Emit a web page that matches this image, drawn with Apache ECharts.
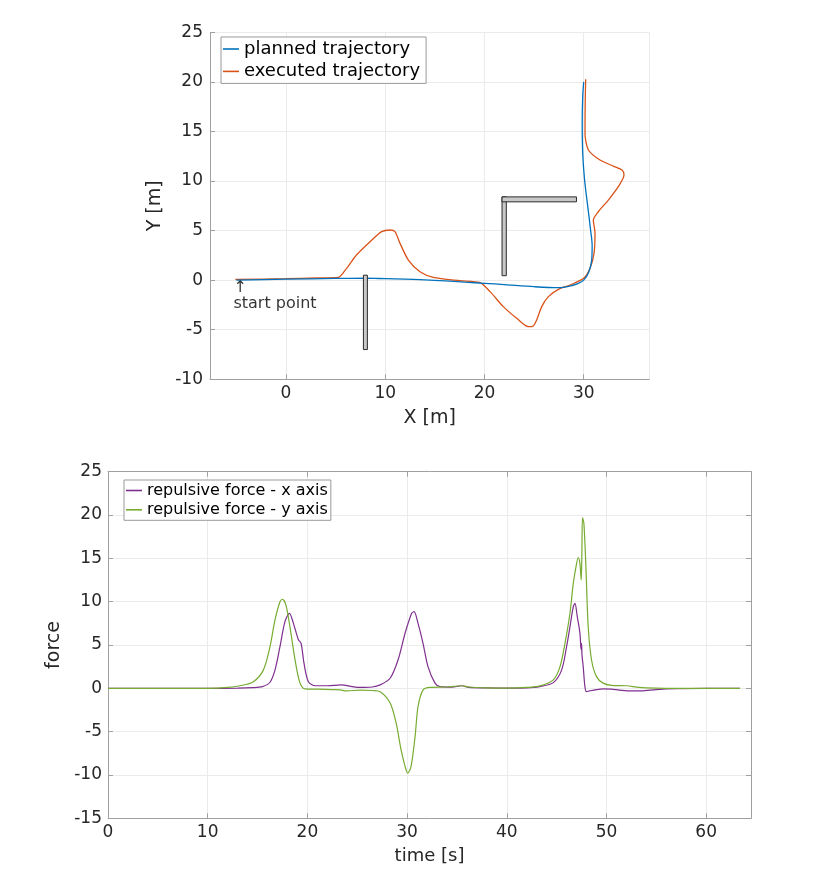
<!DOCTYPE html>
<html>
<head>
<meta charset="utf-8">
<script src="https://cdn.jsdelivr.net/npm/echarts@6/dist/echarts.min.js"></script>
<style>
  html, body { margin: 0; padding: 0; background: #fff; }
</style>
</head>
<body>
<div id="main" style="width: 830px;height:870px;"></div>
<script>
// trajectory in the plane, [x, y] in metres
var planned = [[-5, 0], [0, 0.1], [5, 0.17], [8, 0.2], [10, 0.15], [12, 0.1], [15, -0.02],
    [18, -0.2], [20, -0.32], [22, -0.45], [25, -0.66], [27.5, -0.76], [28.6, -0.6],
    [29.4, -0.35], [30, 0], [30.5, 0.8], [30.8, 2.0], [30.85, 3.5], [30.7, 5.0],
    [30.4, 7.5], [30.1, 10], [29.9, 12.8], [29.85, 16], [29.9, 18.5], [30.0, 20]];

var executed = [[-5.1, 0.07], [0, 0.15], [3, 0.22], [5.27, 0.28], [6.1, 1.19], [7.1, 2.54],
    [8.47, 3.88], [9.64, 4.89], [10.48, 5.06], [10.98, 4.89], [11.49, 3.71], [12.33, 2.03],
    [13.5, 0.85], [14.85, 0.28], [17.53, -0.05], [19.55, -0.25], [20.56, -1.16],
    [21.9, -2.67], [23.25, -3.85], [24.42, -4.69], [24.92, -4.62], [25.26, -4.02],
    [25.77, -2.67], [26.44, -1.66], [27.45, -0.93], [28.62, -0.49], [30, 0.18],
    [30.64, 1.19], [31.04, 2.7], [31.14, 4.72], [30.97, 6.07], [31.47, 6.9], [32.48, 8.08],
    [33.49, 9.43], [34.06, 10.6], [33.86, 11.1], [32.99, 11.5], [31.64, 12.12],
    [30.47, 13.13], [30.13, 14.8], [30.15, 17.84], [30.2, 20.26]];

// obstacles: [x0, x1, y0, y1]
var obstacles = [[7.8, 8.2, -7, 0.5], [21.77, 22.2, 0.45, 8.4], [21.77, 29.27, 7.9, 8.4]];
var startPoint = [[-5, 0]];

// repulsive force over time, [t, f]
var forceX = [[0, 0], [10, 0], [13, 0.02], [14.5, 0.08], [15.5, 0.2], [16.25, 0.7], [16.75, 2.1],
    [17.25, 4.8], [17.75, 7.7], [18.2, 8.66], [18.6, 7.5], [19.1, 5.6], [19.37, 5.2],
    [19.66, 2.9], [20.1, 0.77], [20.8, 0.3], [22, 0.3], [23.4, 0.4], [24.5, 0.2], [25.3, 0.1],
    [26.5, 0.15], [27.3, 0.4], [28.3, 1.16], [29.1, 3.3], [29.8, 6.36], [30.46, 8.66],
    [30.7, 8.85], [31.1, 7.5], [31.6, 5.2], [32.1, 2.5], [32.8, 0.6], [33.3, 0.2],
    [34.5, 0.15], [35.5, 0.3], [36.2, 0.1], [38, 0.05], [40, 0.02], [42, 0.05], [43.3, 0.2],
    [44.67, 0.66], [45.5, 2.1], [46.0, 4.8], [46.34, 7.1], [46.67, 9.4], [46.84, 9.8],
    [47.07, 8.3], [47.34, 6.36], [47.45, 4.5], [47.5, 5.2], [47.55, 3.8], [47.67, 2.5],
    [47.84, 0.2], [48.0, -0.38], [48.3, -0.3], [49.0, -0.15], [49.66, -0.07], [50.5, -0.1],
    [51.3, -0.2], [52.5, -0.3], [53.5, -0.3], [55, -0.15], [57, -0.05], [60, 0], [63.4, 0]];

var forceY = [[0, 0], [10, 0], [12, 0.1], [13.24, 0.3], [14.58, 0.77], [15.58, 2.1], [16.25, 4.8],
    [16.75, 7.9], [17.25, 10.0], [17.5, 10.28], [17.85, 9.6], [18.25, 7.1], [18.76, 3.3],
    [19.26, 0.6], [19.76, -0.07], [21, -0.1], [22.5, -0.15], [23.27, -0.18], [23.94, -0.3],
    [25.3, -0.2], [26.5, -0.25], [27.3, -0.4], [28.3, -1.7], [28.9, -4.0], [29.4, -7.1],
    [29.8, -9.0], [30.07, -9.8], [30.4, -9.0], [30.8, -5.6], [31.1, -2.1], [31.6, -0.2],
    [32.3, 0.1], [34, 0.15], [35.5, 0.3], [36.2, 0.15], [38, 0.05], [40, 0.02], [42, 0.1],
    [43.33, 0.28], [44.67, 0.97], [45.34, 2.5], [45.84, 5.2], [46.34, 8.66], [46.67, 12.1],
    [46.94, 14.0], [47.17, 15.1], [47.34, 14.4], [47.47, 12.5], [47.54, 16.0], [47.6, 19.7],
    [47.74, 19.0], [47.94, 14.0], [48.17, 7.1], [48.5, 3.3], [49.0, 1.35], [49.66, 0.6],
    [50.5, 0.35], [52.0, 0.3], [53.3, 0.1], [55, 0.02], [57, 0], [63.4, 0]];

var FONT = 'DejaVu Sans';
var TXT = '#262626';
var AXIS = '#a0a0a0';
var GRID = '#ebebeb';

function axisBase(extra) {
    var a = {
        type: 'value',
        axisLine: { show: true, onZero: false, lineStyle: { color: AXIS, width: 1 } },
        axisTick: { show: true, inside: true, length: 5, lineStyle: { color: AXIS } },
        axisLabel: { color: TXT, fontFamily: FONT, fontSize: 17, margin: 6 },
        splitLine: { show: true, lineStyle: { color: GRID, width: 1 } },
        nameLocation: 'middle',
        nameTextStyle: { color: TXT, fontFamily: FONT, fontSize: 19 }
    };
    for (var k in extra) a[k] = extra[k];
    return a;
}

var myChart = echarts.init(document.getElementById('main'), null, { renderer: 'canvas' });

var option = {
    animation: false,
    backgroundColor: '#fff',
    grid: [
        { left: 210, top: 32.3, width: 439.3, height: 347 },
        { left: 108, top: 471.7, width: 643, height: 346.6 }
    ],
    legend: [
        {
            data: ['planned trajectory', 'executed trajectory'],
            orient: 'vertical', left: 221, top: 37,
            icon: 'rect', itemWidth: 16, itemHeight: 1.6,
            padding: [2, 6, 2, 2], itemGap: 2.4,
            backgroundColor: '#fff', borderColor: '#999', borderWidth: 1, borderRadius: 0,
            selectedMode: false,
            textStyle: { color: '#000', fontFamily: FONT, fontSize: 18, lineHeight: 20 }
        },
        {
            data: ['repulsive force - x axis', 'repulsive force - y axis'],
            orient: 'vertical', left: 124, top: 480,
            icon: 'rect', itemWidth: 16, itemHeight: 1.6,
            padding: [2, 3, 2, 2], itemGap: 2.3,
            backgroundColor: '#fff', borderColor: '#999', borderWidth: 1, borderRadius: 0,
            selectedMode: false,
            textStyle: { color: '#000', fontFamily: FONT, fontSize: 16, lineHeight: 17 }
        }
    ],
    xAxis: [
        axisBase({
            gridIndex: 0, min: -7.66, max: 36.61, minInterval: 10, maxInterval: 10,
            name: 'X [m]', nameGap: 29,
            axisLabel: { color: TXT, fontFamily: FONT, fontSize: 17, margin: 6, showMinLabel: false, showMaxLabel: false }
        }),
        axisBase({
            gridIndex: 1, min: 0, max: 64.5, interval: 10,
            name: 'time [s]', nameGap: 29,
            nameTextStyle: { color: TXT, fontFamily: FONT, fontSize: 18 },
            axisLabel: { color: TXT, fontFamily: FONT, fontSize: 17, margin: 6, showMaxLabel: false }
        }),
        axisBase({
            gridIndex: 1, min: 0, max: 64.5, interval: 10, position: 'top',
            axisLabel: { show: false }, splitLine: { show: false }
        })
    ],
    yAxis: [
        axisBase({
            gridIndex: 0, min: -10, max: 25, interval: 5,
            name: 'Y [m]', nameGap: 38,
            axisLabel: { color: TXT, fontFamily: FONT, fontSize: 17, margin: 7 }
        }),
        axisBase({
            gridIndex: 1, min: -15, max: 25, interval: 5,
            name: 'force', nameGap: 40,
            nameTextStyle: { color: TXT, fontFamily: FONT, fontSize: 19 },
            axisLabel: { color: TXT, fontFamily: FONT, fontSize: 17, margin: 6 }
        }),
        axisBase({
            gridIndex: 1, min: -15, max: 25, interval: 5, position: 'right',
            axisLabel: { show: false }, splitLine: { show: false }
        })
    ],
    series: [
        {
            name: 'planned trajectory', type: 'line', xAxisIndex: 0, yAxisIndex: 0,
            data: planned, showSymbol: false, symbol: 'none', smooth: 0.3,
            lineStyle: { color: '#0072BD', width: 1.3 }, itemStyle: { color: '#0072BD' }, z: 3
        },
        {
            name: 'executed trajectory', type: 'line', xAxisIndex: 0, yAxisIndex: 0,
            data: executed, showSymbol: false, symbol: 'none', smooth: 0.25,
            lineStyle: { color: '#D95319', width: 1.3 }, itemStyle: { color: '#D95319' }, z: 2
        },
        {
            name: 'obstacles', type: 'custom', xAxisIndex: 0, yAxisIndex: 0,
            data: obstacles, encode: { x: [0, 1], y: [2, 3] }, silent: true, z: 4,
            renderItem: function (params, api) {
                var p0 = api.coord([api.value(0), api.value(3)]);
                var p1 = api.coord([api.value(1), api.value(2)]);
                return {
                    type: 'rect',
                    shape: { x: p0[0], y: p0[1], width: p1[0] - p0[0], height: p1[1] - p0[1] },
                    style: { fill: '#c8c8c8', stroke: '#2a2a2a', lineWidth: 1 }
                };
            }
        },
        {
            name: 'start', type: 'scatter', xAxisIndex: 0, yAxisIndex: 0,
            data: startPoint, symbolSize: 0, silent: true, z: 5,
            label: {
                show: true, position: [-3, 0], align: 'left', verticalAlign: 'top',
                formatter: '↑\nstart point',
                color: '#000', fontFamily: FONT, fontSize: 16, lineHeight: 16
            }
        },
        {
            name: 'repulsive force - x axis', type: 'line', xAxisIndex: 1, yAxisIndex: 1,
            data: forceX, showSymbol: false, symbol: 'none', smooth: 0.3,
            lineStyle: { color: '#7E2F8E', width: 1.2 }, itemStyle: { color: '#7E2F8E' }
        },
        {
            name: 'repulsive force - y axis', type: 'line', xAxisIndex: 1, yAxisIndex: 1,
            data: forceY, showSymbol: false, symbol: 'none', smooth: 0.3,
            lineStyle: { color: '#77AC30', width: 1.2 }, itemStyle: { color: '#77AC30' }
        }
    ]
};
myChart.setOption(option);
</script>
</body>
</html>
